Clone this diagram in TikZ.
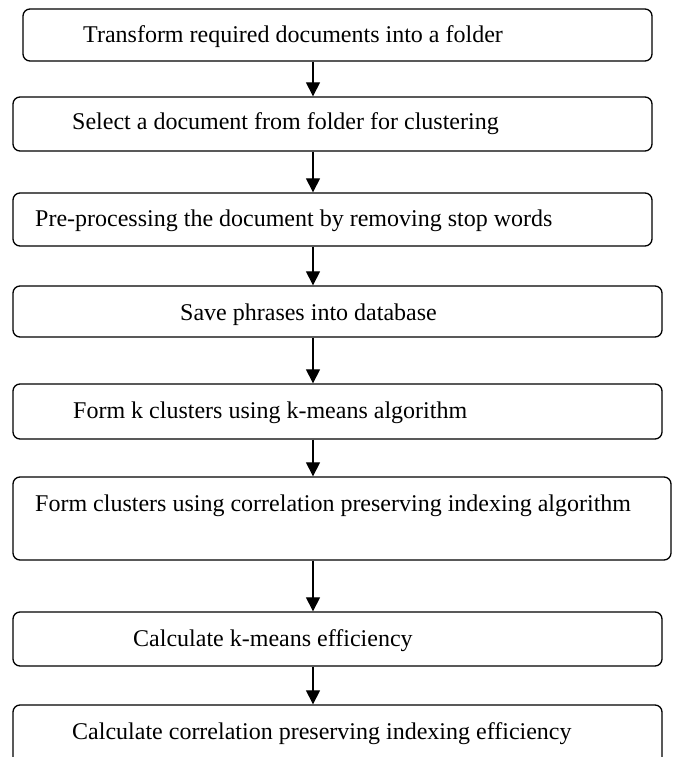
\documentclass[tikz,border=0pt]{standalone}
\usepackage{fontspec}
\setmainfont{Liberation Serif}
\usetikzlibrary{arrows.meta}
\begin{document}
\begin{tikzpicture}[x=1bp,y=-1bp,
  stepbox/.style={draw=black, line width=1.3bp, rounded corners=7bp, inner sep=0pt},
  lbl/.style={anchor=base west, inner sep=0pt, font=\fontsize{24bp}{28bp}\selectfont},
  arr/.style={draw=black, line width=1.1bp, -{Triangle[length=14bp,width=14bp]}}]
\clip (0,0) rectangle (674,757);
\coordinate (ax) at (313,0);
% boxes: (left,top) to (right,bottom)
\node[stepbox, minimum width=629bp, minimum height=52bp] (b1) at ({(23+652)/2},{(9+61)/2}) {};
\node[stepbox, minimum width=639bp, minimum height=54bp] (b2) at ({(13+652)/2},{(97+151)/2}) {};
\node[stepbox, minimum width=639bp, minimum height=53bp] (b3) at ({(13+652)/2},{(193+246)/2}) {};
\node[stepbox, minimum width=649bp, minimum height=51bp] (b4) at ({(13+662)/2},{(286+337)/2}) {};
\node[stepbox, minimum width=649bp, minimum height=55bp] (b5) at ({(13+662)/2},{(384+439)/2}) {};
\node[stepbox, minimum width=658bp, minimum height=83bp] (b6) at ({(13+671)/2},{(477+560)/2}) {};
\node[stepbox, minimum width=649bp, minimum height=54bp] (b7) at ({(13+662)/2},{(612+666)/2}) {};
\node[stepbox, minimum width=649bp, minimum height=70bp] (b8) at ({(13+662)/2},{(705+775)/2}) {};
% labels
\node[lbl] (t1) at (83,43) {Transform required documents into a folder};
\node[lbl] (t2) at (72,129) {Select a document from folder for clustering};
\node[lbl] (t3) at (35,226) {Pre-processing the document by removing stop words};
\node[lbl] (t4) at (180,320) {Save phrases into database};
\node[lbl] (t5) at (73,418) {Form k clusters using k-means algorithm};
\node[lbl] (t6) at (35,511) {Form clusters using correlation preserving indexing algorithm};
\node[lbl] (t7) at (133,646) {Calculate k-means efficiency};
\node[lbl] (t8) at (72,739) {Calculate correlation preserving indexing efficiency};
% arrows
\draw[arr] (b1.south -| ax) -- (b2.north -| ax);
\draw[arr] (b2.south -| ax) -- (b3.north -| ax);
\draw[arr] (b3.south -| ax) -- (b4.north -| ax);
\draw[arr] (b4.south -| ax) -- (b5.north -| ax);
\draw[arr] (b5.south -| ax) -- (b6.north -| ax);
\draw[arr] (b6.south -| ax) -- (b7.north -| ax);
\draw[arr] (b7.south -| ax) -- (b8.north -| ax);
\end{tikzpicture}
\end{document}
